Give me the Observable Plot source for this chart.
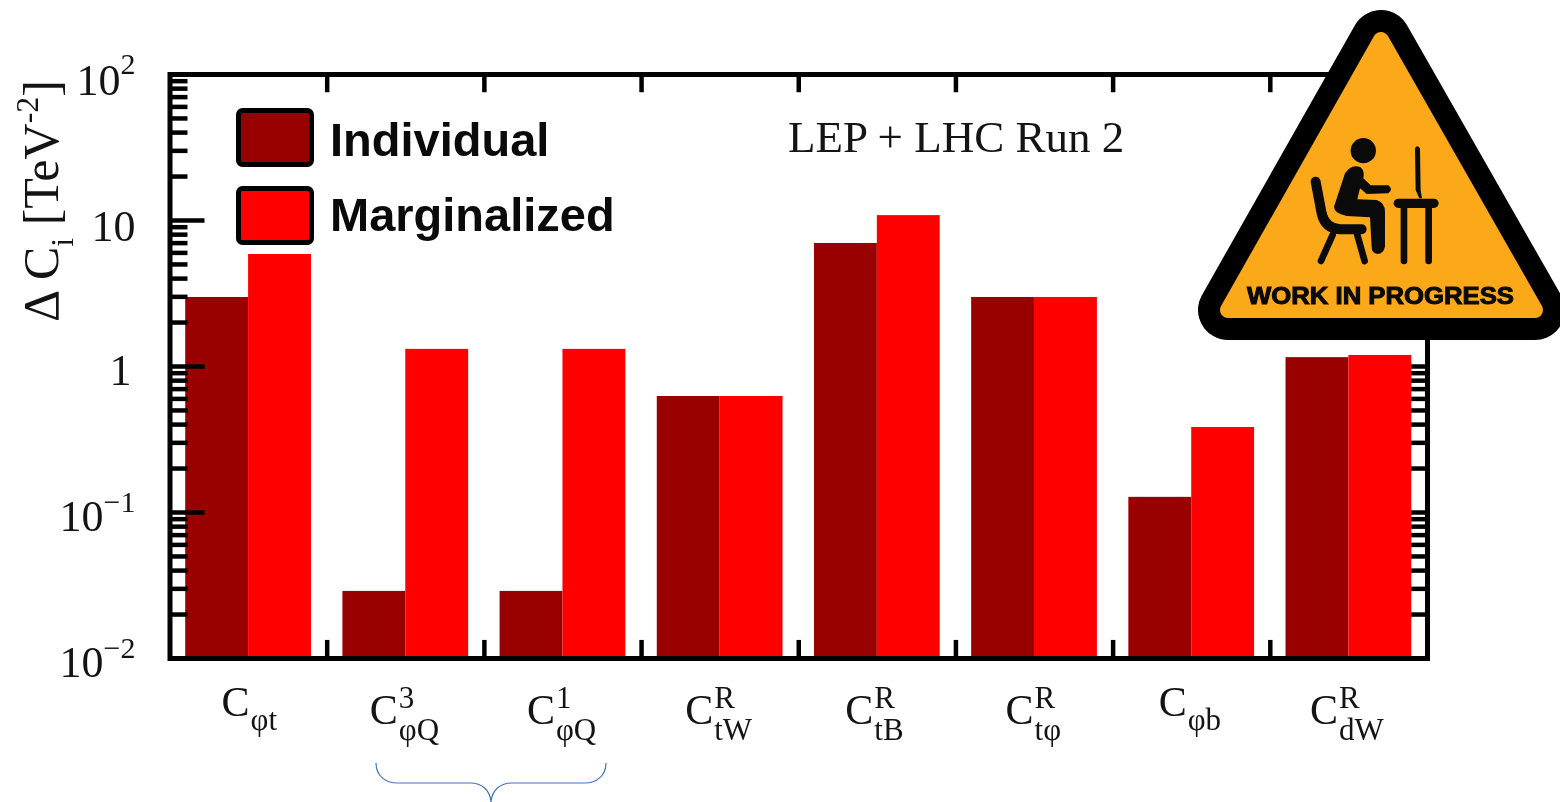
<!DOCTYPE html>
<html>
<head>
<meta charset="utf-8">
<script src="https://cdn.jsdelivr.net/npm/d3@7"></script>
<script src="https://cdn.jsdelivr.net/npm/@observablehq/plot@0.6"></script>
<style>
html,body{margin:0;padding:0;background:#fff;width:1560px;height:802px;overflow:hidden}
#wrap{position:relative;width:1560px;height:802px;filter:blur(0.5px)}
#wrap>svg{position:absolute;left:0;top:0}
</style>
</head>
<body>
<div id="wrap"></div>
<script>
// ---- data ----
const categories = ["Cφt","C3φQ","C1φQ","CRtW","CRtB","CRtφ","Cφb","CRdW"];
const individual   = [2.97,0.0288,0.0288,0.623,6.96,2.97,0.127,1.15];
const marginalized = [5.85,1.31,1.31,0.623,10.8,2.97,0.382,1.19];
const subLabels = ["φt","φQ","φQ","tW","tB","tφ","φb","dW"];
const supLabels = ["","3","1","R","R","R","","R"];
const majorTicks = [0.01,0.1,1,10,100];
const minorTicks = [0.02,0.03,0.04,0.05,0.06,0.07,0.08,0.09,0.2,0.3,0.4,0.5,0.6,0.7,0.8,0.9,2,3,4,5,6,7,8,9,20,30,40,50,60,70,80,90];
const yBase = ["10","10","1","10","10"];   // for 100,10,1,0.1,0.01
const yExp  = ["2","","","\u22121","\u22122"];
const yTickValues = [100,10,1,0.1,0.01];

// ---- layout ----
const W = 1560, H = 802, mL = 169.5, mR = 133, mT = 74, mB = 144;
const innerW = W - mL - mR;
const DARK = "#990000", RED = "#ff0000", INK = "#141414";
const SERIF = "'Liberation Serif','Times New Roman',serif";
const SANS = "'Liberation Sans',Arial,sans-serif";
const step = innerW / 8, bw = step * 0.8;
const labelDx = [-27,-36,-36,-35,-32,-29,-33,-39];   // left edge of each C, from the band centre
const yBaseRight = [120,135,131,103,103];
const yExpLeft = [120,0,0,103,103];

const rows = categories.map((c,i)=>({c, ind: individual[i], mar: marginalized[i], sub: subLabels[i], sup: supLabels[i], dx: labelDx[i]}));

const xLabelMarks = rows.flatMap(r => {
  const hasSup = r.sup !== "";
  const cDy = hasSup ? 52 : 44;     // below the bottom of the frame
  const subDy = hasSup ? 72 : 62;
  const common = {x: d=>d.c, frameAnchor:"bottom", lineAnchor:"middle", fontFamily:SERIF, fill:INK, textAnchor:"start"};
  const m = [
    Plot.text([r], {...common, text: ()=> "C", dx:r.dx, dy:cDy, fontSize:42}),
    Plot.text([r], {...common, text: d=>d.sub, dx:r.dx+29, dy:subDy, fontSize:31})
  ];
  if (hasSup) m.push(Plot.text([r], {...common, text:d=>d.sup, dx:r.dx+29, dy:40, fontSize:31}));
  return m;
});

const yLabelMarks = yTickValues.flatMap((v,i)=>{
  const m = [Plot.text([v], {y:d=>d, frameAnchor:"left", textAnchor:"end", text:()=>yBase[i], dx:yBaseRight[i]-mL, dy:i<2?6:4, fontFamily:SERIF, fontSize:44, fill:INK})];
  if (yExp[i]) m.push(Plot.text([v], {y:d=>d, frameAnchor:"left", textAnchor:"start", text:()=>yExp[i], dx:yExpLeft[i]-mL, dy:-10, fontFamily:SERIF, fontSize:30, fill:INK}));
  return m;
});

const tickStroke = {stroke:"black", strokeWidth:4.5};
const chart = Plot.plot({
  width: W, height: H,
  marginLeft: mL, marginRight: mR, marginTop: mT, marginBottom: mB,
  style: {background:"transparent", overflow:"visible"},
  x: {type:"band", domain: categories, paddingInner:0.2, paddingOuter:0.1, round:false, axis:null},
  y: {type:"log", domain:[0.01,100], axis:null},
  marks: [
    // mirrored ticks on the right, behind the bars
    Plot.ruleY(minorTicks, {...tickStroke, insetLeft: innerW-20}),
    Plot.ruleY(majorTicks, {...tickStroke, insetLeft: innerW-36}),
    // bars
    Plot.barY(rows, {x:"c", y1:()=>0.01, y2:"ind", fill:DARK, insetRight: bw/2}),
    Plot.barY(rows, {x:"c", y1:()=>0.01, y2:"mar", fill:RED, insetLeft: bw/2}),
    // left ticks, over the bars
    Plot.ruleY(minorTicks, {...tickStroke, insetRight: innerW-18}),
    Plot.ruleY(majorTicks, {...tickStroke, insetRight: innerW-35}),
    // ticks between the groups
    Plot.ruleX(categories.slice(0,-1), {x:d=>d, dx: step/2, y1:()=>100, y2:()=>75, ...tickStroke}),
    Plot.ruleX(categories.slice(0,-1), {x:d=>d, dx: step/2, y1:()=>0.01, y2:()=>0.0133, ...tickStroke}),
    Plot.frame({stroke:"black", strokeWidth:5}),
    ...xLabelMarks,
    ...yLabelMarks
  ]
});
document.getElementById("wrap").appendChild(chart);

// ---- annotations: axis title, legend, run label, brace and sign ----
const overlay = `
<svg xmlns="http://www.w3.org/2000/svg" width="${W}" height="${H}" viewBox="0 0 ${W} ${H}" style="pointer-events:none">
  <text transform="translate(58,322) rotate(-90)" font-family="${SERIF}" font-size="50" fill="${INK}">\u0394 C<tspan font-size="32" dy="15">i</tspan><tspan dy="-15"> [TeV</tspan><tspan font-size="32" dy="-20">-2</tspan><tspan dy="20">]</tspan></text>

  <rect x="238.5" y="110.5" width="73" height="54" rx="4" fill="${DARK}" stroke="black" stroke-width="5"/>
  <rect x="238.5" y="188.5" width="73" height="54" rx="4" fill="${RED}" stroke="black" stroke-width="5"/>
  <text x="330" y="156" font-family="${SANS}" font-weight="700" font-size="47" fill="#0a0a0a">Individual</text>
  <text x="330" y="231" font-family="${SANS}" font-weight="700" font-size="47" fill="#0a0a0a">Marginalized</text>
  <text x="788" y="152" font-family="${SERIF}" font-size="45" fill="${INK}">LEP + LHC Run 2</text>

  <path d="M376,763 C376,776 386,783 397,783 L470,783 C482,783 490,790 491,802 C492,790 500,783 512,783 L585,783 C596,783 606,776 606,763" fill="none" stroke="#4472c4" stroke-width="1.2"/>

  <path d="M1381,40 L1228,310 L1535,310 Z" fill="black" stroke="black" stroke-width="60" stroke-linejoin="round"/>
  <path d="M1381,40 L1228,310 L1535,310 Z" fill="#fba919" stroke="#fba919" stroke-width="16" stroke-linejoin="round"/>
  <g transform="translate(1150,0) scale(0.3333)" fill="#0a0a0a" stroke="#0a0a0a" stroke-linecap="round" stroke-linejoin="round">
    <circle cx="640" cy="452" r="38" stroke="none"/>
    <path stroke="none" d="M585,520 Q605,490 632,502 Q645,515 640,535 L662,556 L715,556 Q732,568 715,580 L650,582 L630,565 L622,598 L680,600 Q705,608 705,635 L705,740 Q700,762 683,762 Q665,760 665,740 L660,652 L590,648 Q552,640 552,620 Z"/>
    <path fill="none" stroke-width="30" d="M497,545 L515,640 Q525,685 570,688 L635,688"/>
    <path fill="none" stroke-width="20" d="M548,705 L513,783 M622,705 L644,783"/>
    <path fill="none" stroke-width="28" d="M745,610 L852,610"/>
    <path fill="none" stroke-width="20" d="M762,625 L762,783 M836,625 L836,783"/>
    <path stroke="none" d="M795,445 Q802,432 810,445 L812,570 L816,595 L808,595 L797,570 Z"/>
  </g>
  <text x="1247" y="304" font-family="${SANS}" font-weight="700" font-size="23.5" textLength="267" lengthAdjust="spacingAndGlyphs" fill="#0a0a0a" stroke="#0a0a0a" stroke-width="1">WORK IN PROGRESS</text>
</svg>`;
document.getElementById("wrap").insertAdjacentHTML("beforeend", overlay);
</script>
</body>
</html>
